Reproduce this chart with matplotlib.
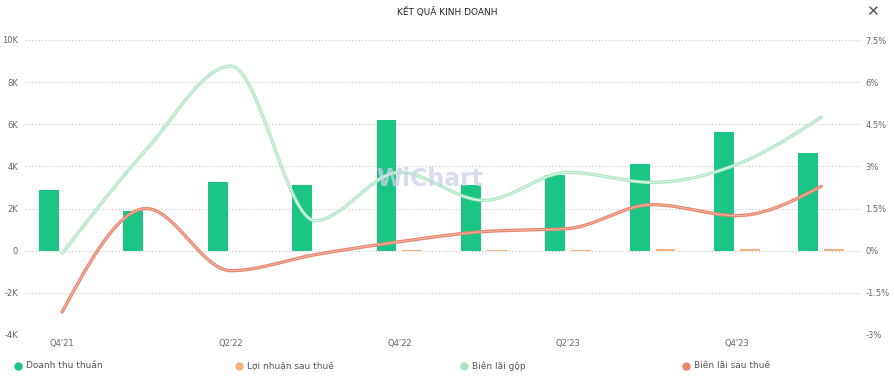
import numpy as np
import matplotlib
matplotlib.use("Agg")
import matplotlib.pyplot as plt
from matplotlib.lines import Line2D

quarters = ["Q4'21", "Q1'22", "Q2'22", "Q3'22", "Q4'22", "Q1'23", "Q2'23", "Q3'23", "Q4'23", "Q1'24"]
revenue = [2900, 1900, 3270, 3130, 6200, 3130, 3600, 4120, 5640, 4640]
net_profit = [-30, 10, 5, 10, 20, 15, 20, 70, 70, 100]
gross_margin = [-0.1, 3.6, 6.57, 1.07, 2.79, 1.79, 2.79, 2.43, 3.07, 4.75]
net_margin = [-2.18, 1.5, -0.71, -0.14, 0.32, 0.68, 0.79, 1.64, 1.25, 2.29]
tick_labels = ["Q4'21", "Q2'22", "Q4'22", "Q2'23", "Q4'23"]
left_ticks = [-4000, -2000, 0, 2000, 4000, 6000, 8000, 10000]
left_tick_labels = ["-4K", "-2K", "0", "2K", "4K", "6K", "8K", "10K"]
right_ticks = [-3, -1.5, 0, 1.5, 3, 4.5, 6, 7.5]
right_tick_labels = ["-3%", "-1.5%", "0%", "1.5%", "3%", "4.5%", "6%", "7.5%"]


def monotone_curve(x, y, n=40):
    x = np.asarray(x, float)
    y = np.asarray(y, float)
    m = len(x)
    h = np.diff(x)
    s = np.diff(y) / h
    t = np.zeros(m)
    for i in range(1, m - 1):
        p = (s[i - 1] * h[i] + s[i] * h[i - 1]) / (h[i - 1] + h[i])
        t[i] = (np.sign(s[i - 1]) + np.sign(s[i])) * min(abs(s[i - 1]), abs(s[i]), 0.5 * abs(p))
    t[0] = (3 * s[0] - t[1]) / 2
    t[-1] = (3 * s[-1] - t[-2]) / 2
    xs_all, ys_all = [], []
    for i in range(m - 1):
        u = np.linspace(0, 1, n)
        h00 = 2 * u**3 - 3 * u**2 + 1
        h10 = u**3 - 2 * u**2 + u
        h01 = -2 * u**3 + 3 * u**2
        h11 = u**3 - u**2
        xs_all.append(x[i] + u * h[i])
        ys_all.append(h00 * y[i] + h10 * h[i] * t[i] + h01 * y[i + 1] + h11 * h[i] * t[i + 1])
    return np.concatenate(xs_all), np.concatenate(ys_all)


fig = plt.figure(figsize=(8.94, 3.77), dpi=100)
ax = fig.add_axes([25 / 894, 1 - 335 / 377, (860 - 25) / 894, (335 - 40) / 377])
ax2 = ax.twinx()

x = np.arange(len(quarters))
w = 0.237
off = 0.154
ax.bar(x - off, revenue, width=w, color="#1bc585", zorder=3)
ax.bar(x + off, net_profit, width=w, color="#f2b47c", zorder=3)

ax.set_ylim(-4000, 10000)
ax2.set_ylim(-3, 7.5)
ax.set_xlim(-0.44, 9.46)

for t in left_ticks:
    ax.axhline(t, color="#c8c8c8", lw=0.8, ls=(0, (1, 2)), zorder=0)

xs, ys = monotone_curve(x, gross_margin)
ax2.plot(xs, ys, color="#b0e6c4", lw=2.4, solid_capstyle="round", zorder=4)
ax2.plot(xs, ys, color="#e6f7ec", lw=0.6, zorder=5)
xs, ys = monotone_curve(x, net_margin)
ax2.plot(xs, ys, color="#e8866f", lw=2.4, solid_capstyle="round", zorder=4)
ax2.plot(xs, ys, color="#f2bcae", lw=0.6, zorder=5)

ax.set_yticks(left_ticks)
ax.set_yticklabels(left_tick_labels)
ax2.set_yticks(right_ticks)
ax2.set_yticklabels(right_tick_labels)
ax.set_xticks([0, 2, 4, 6, 8])
ax.set_xticklabels(tick_labels)
for a in (ax, ax2):
    for s in a.spines.values():
        s.set_visible(False)
    a.tick_params(length=0, labelsize=6, colors="#666666")
ax.tick_params(axis="y", pad=5)
ax2.tick_params(axis="y", pad=4)
ax.tick_params(axis="x", pad=3)

fig.text(0.481, 0.525, "WiChart", fontsize=17, fontweight="bold",
         color="#cdd1e8", alpha=0.75, ha="center", va="center", zorder=10)

fig.text(447 / 894, 1 - 12 / 377, "KẾT QUẢ KINH DOANH", fontsize=6.5, ha="center",
         va="center", color="#222222")
fig.text(872 / 894, 1 - 12 / 377, "✕", fontsize=11, ha="center", va="center", color="#555555")

legend_items = [("Doanh thu thuần", "#1bc585", 18), ("Lợi nhuận sau thuế", "#f2b47c", 239),
                ("Biên lãi gộp", "#a9e4bf", 464), ("Biên lãi sau thuế", "#e6856f", 686)]
for label, color, px in legend_items:
    fig.add_artist(Line2D([px / 894], [1 - 366 / 377], marker="o", color=color,
                          markersize=5, linestyle="none", transform=fig.transFigure))
    fig.text((px + 8) / 894, 1 - 366 / 377, label, fontsize=6.5, va="center",
             ha="left", color="#555555")

fig.savefig("out.png", dpi=100)
